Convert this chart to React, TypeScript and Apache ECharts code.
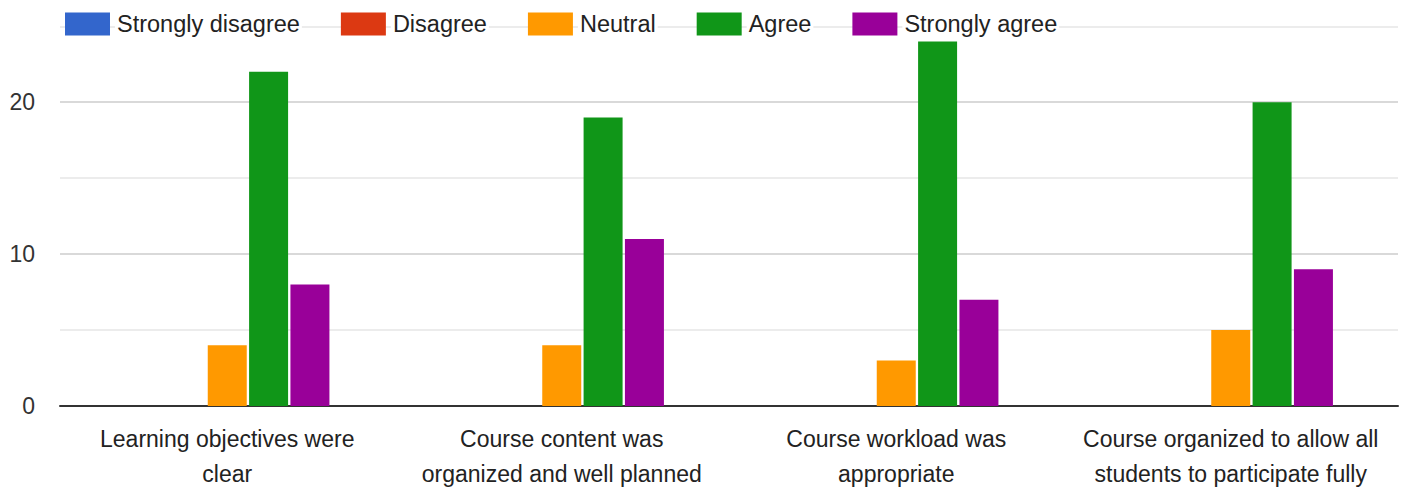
import React, { useEffect, useRef } from "react";
import * as echarts from "echarts";

const categories = [
  "Learning objectives were\nclear",
  "Course content was\norganized and well planned",
  "Course workload was\nappropriate",
  "Course organized to allow all\nstudents to participate fully",
];
const seriesNames = ["Strongly disagree", "Disagree", "Neutral", "Agree", "Strongly agree"];
const stronglyDisagree = [0, 0, 0, 0];
const disagree = [0, 0, 0, 0];
const neutral = [4, 4, 3, 5];
const agree = [22, 19, 24, 20];
const stronglyAgree = [8, 11, 7, 9];
const colors = ["#3366cc", "#dc3912", "#ff9900", "#109618", "#990099"];

const FONT = "'Liberation Sans', Arial, sans-serif";

export default function App() {
  const ref = useRef<HTMLDivElement>(null);
  useEffect(() => {
    if (!ref.current) return;
    const chart = echarts.init(ref.current, undefined, { renderer: "svg" });
    const values = [stronglyDisagree, disagree, neutral, agree, stronglyAgree];
    chart.setOption({
      animation: false,
      backgroundColor: "#ffffff",
      textStyle: { fontFamily: FONT },
      color: colors,
      legend: {
        left: 60,
        top: 7,
        itemWidth: 45,
        itemHeight: 23,
        itemGap: 39,
        icon: "rect",
        data: seriesNames,
        textStyle: {
          fontFamily: FONT,
          fontSize: 23.5,
          color: "#222222",
          backgroundColor: "#ffffff",
          padding: [0, 2, 0, 2],
        },
      },
      grid: { left: 60, right: 7, top: 26.3, bottom: 82.7, containLabel: false },
      xAxis: {
        type: "category",
        data: categories,
        axisTick: { show: false },
        axisLine: { lineStyle: { color: "#333333", width: 2 } },
        axisLabel: {
          fontFamily: FONT,
          fontSize: 23,
          color: "#222222",
          lineHeight: 35,
          margin: 15,
          interval: 0,
        },
      },
      yAxis: {
        type: "value",
        min: 0,
        max: 25,
        interval: 5,
        axisLine: { show: false },
        axisTick: { show: false },
        axisLabel: {
          fontFamily: FONT,
          fontSize: 23,
          color: "#333333",
          margin: 25,
          formatter: (v: number) => (v % 10 === 0 ? String(v) : ""),
        },
        splitLine: {
          lineStyle: { color: ["#cccccc", "#e6e6e6"], width: 1.5 },
        },
      },
      series: seriesNames.map((name, i) => ({
        name,
        type: "bar",
        data: values[i],
        barWidth: 39,
        barGap: "6%",
        itemStyle: { color: colors[i] },
      })),
    });
    return () => chart.dispose();
  }, []);
  return <div ref={ref} style={{ width: 1405, height: 491, position: "absolute", left: 0, top: 0 }} />;
}
